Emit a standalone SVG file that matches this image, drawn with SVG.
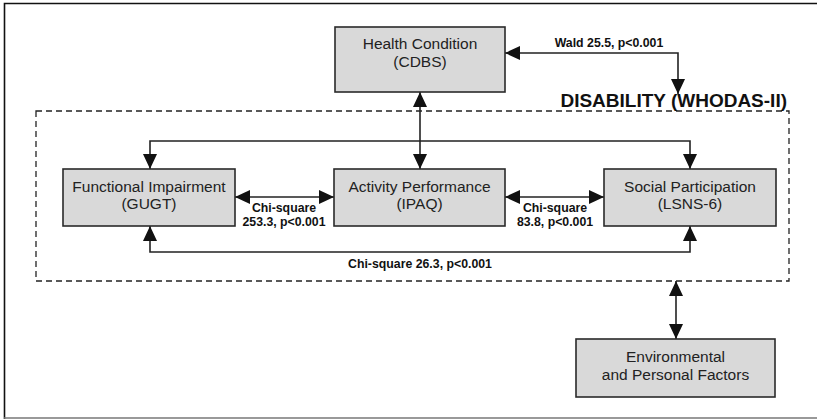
<svg xmlns="http://www.w3.org/2000/svg" width="817" height="419" viewBox="0 0 817 419">
<style>
.box{fill:#d9d9d9;stroke:#2a2a2a;stroke-width:1.6}
.t{font-family:"Liberation Sans",Arial,sans-serif;font-size:15.5px;fill:#222;text-anchor:middle}
.l{font-family:"Liberation Sans",Arial,sans-serif;font-size:12.3px;font-weight:bold;fill:#111;text-anchor:middle}
.c{fill:none;stroke:#222;stroke-width:1.6}
</style>
<defs>
<marker id="ah" viewBox="0 0 15 14" refX="15" refY="7" markerWidth="15" markerHeight="14" markerUnits="userSpaceOnUse" orient="auto-start-reverse">
<path d="M0,0 L15,7 L0,14 z" fill="#111"/>
</marker>
</defs>
<rect x="0" y="0" width="817" height="419" fill="#fff"/>
<path d="M4.5,419 V3.5 H817" fill="none" stroke="#111" stroke-width="1.6"/>
<line x1="4" y1="418" x2="817" y2="418" stroke="#777" stroke-width="1.4"/>

<g id="disability">
<rect x="36" y="111" width="753" height="170" fill="none" stroke="#222" stroke-width="1.3" stroke-dasharray="6,4"/>
<text x="787" y="107" font-family="'Liberation Sans',Arial,sans-serif" font-size="19" font-weight="bold" fill="#111" text-anchor="end">DISABILITY (WHODAS-II)</text>
</g>

<g id="connectors">
<path class="c" d="M505,53 H678 V94" marker-start="url(#ah)" marker-end="url(#ah)"/>
<path class="c" d="M420,92 V169" marker-start="url(#ah)" marker-end="url(#ah)"/>
<path class="c" d="M150,169 V141 H690 V169" marker-start="url(#ah)" marker-end="url(#ah)"/>
<path class="c" d="M150,226 V252 H690 V226" marker-start="url(#ah)" marker-end="url(#ah)"/>
<path class="c" d="M235,197 H334" marker-start="url(#ah)" marker-end="url(#ah)"/>
<path class="c" d="M505,197 H604" marker-start="url(#ah)" marker-end="url(#ah)"/>
<path class="c" d="M676,281 V339" marker-start="url(#ah)" marker-end="url(#ah)"/>
<text class="l" x="609" y="47">Wald 25.5, p&lt;0.001</text>
<text class="l" x="284" y="212">Chi-square</text>
<text class="l" x="284" y="226">253.3, p&lt;0.001</text>
<text class="l" x="555" y="212">Chi-square</text>
<text class="l" x="555" y="226">83.8, p&lt;0.001</text>
<text class="l" x="420" y="268">Chi-square 26.3, p&lt;0.001</text>
</g>

<g id="health">
<rect class="box" x="335" y="27" width="170" height="65"/>
<text class="t" x="420" y="49">Health Condition</text>
<text class="t" x="420" y="67">(CDBS)</text>
</g>
<g id="functional">
<rect class="box" x="63" y="169" width="172" height="57"/>
<text class="t" x="149" y="192">Functional Impairment</text>
<text class="t" x="149" y="209">(GUGT)</text>
</g>
<g id="activity">
<rect class="box" x="334" y="169" width="171" height="57"/>
<text class="t" x="419.5" y="192">Activity Performance</text>
<text class="t" x="419.5" y="209">(IPAQ)</text>
</g>
<g id="social">
<rect class="box" x="604" y="169" width="172" height="57"/>
<text class="t" x="690" y="192">Social Participation</text>
<text class="t" x="690" y="209">(LSNS-6)</text>
</g>
<g id="environment">
<rect class="box" x="576" y="339" width="199" height="58"/>
<text class="t" x="675.5" y="362">Environmental</text>
<text class="t" x="675.5" y="380">and Personal Factors</text>
</g>
</svg>
